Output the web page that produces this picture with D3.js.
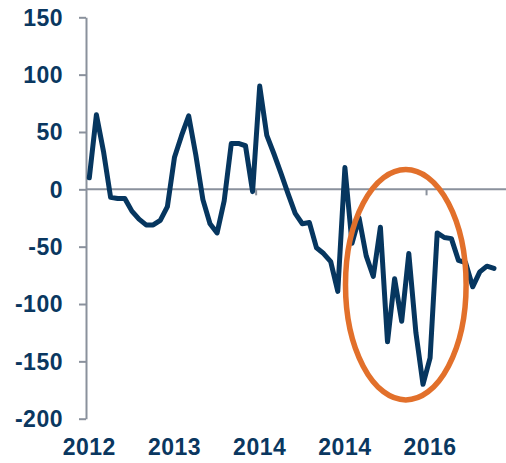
<!DOCTYPE html>
<html>
<head>
<meta charset="utf-8">
<title>Monthly series 2012-2016</title>
<style>
  body { margin: 0; background: #fff; }
  .axis path, .axis line { stroke: #8a919c; stroke-width: 2px; }
  .label { font-family: "Liberation Sans", Arial, sans-serif; font-weight: bold; font-size: 23px; fill: #0a3760; letter-spacing: 0.5px; }
</style>
</head>
<body>
<script src="https://d3js.org/d3.v7.min.js"></script>
<script>
// one value per month, starting Jan 2012
var values = [10, 65, 33, -7, -8, -8, -19, -26, -31, -31, -27, -15,
              28, 47, 64, 30, -9, -30, -38, -10, 40, 40, 38, -2,
              90, 47, 31, 14, -4, -21, -30, -29, -51, -56, -63, -89,
              19, -47, -25, -58, -76, -33, -133, -78, -115, -56, -125, -170,
              -147, -38, -42, -43, -62, -64, -85, -72, -67, -69];
var yTicks = [150, 100, 50, 0, -50, -100, -150, -200];
var xLabelIdx = [0, 12, 24, 36, 48];
var xLabels = ["2012", "2013", "2014", "2014", "2016"];
var xTickIdx = [23.5, 47.5];

var W = 506, H = 463;
var svg = d3.select("body").append("svg").attr("width", W).attr("height", H);

var x = d3.scaleLinear().domain([0, values.length - 1]).range([89.3, 494]);
var y = d3.scaleLinear().domain([-200, 150]).range([418.7, 17.3]);
var axisX = 86;

// y axis
var gy = svg.append("g").attr("class", "axis")
  .attr("transform", "translate(" + axisX + ",0)")
  .call(d3.axisLeft(y).tickValues(yTicks).tickSize(7).tickSizeOuter(0).tickFormat(""));

svg.selectAll(".ylab").data(yTicks).enter().append("text")
  .attr("class", "label")
  .attr("x", 63)
  .attr("y", function(d){ return y(d); })
  .attr("dy", "0.36em")
  .attr("text-anchor", "end")
  .text(function(d){ return d; });

// zero line with ticks hanging below
var gx = svg.append("g").attr("class", "axis")
  .attr("transform", "translate(0," + y(0) + ")");
gx.append("line").attr("x1", axisX).attr("x2", W).attr("y1", 0).attr("y2", 0);
gx.selectAll(".xt").data(xTickIdx).enter().append("line")
  .attr("x1", function(d){ return x(d); }).attr("x2", function(d){ return x(d); })
  .attr("y1", 0).attr("y2", 6);

svg.selectAll(".xlab").data(xLabelIdx).enter().append("text")
  .attr("class", "label")
  .attr("x", function(d){ return x(d); })
  .attr("y", 455)
  .attr("text-anchor", "middle")
  .text(function(d, i){ return xLabels[i]; });

// series
var line = d3.line()
  .x(function(d, i){ return x(i); })
  .y(function(d){ return y(d); });

svg.append("path")
  .datum(values)
  .attr("d", line)
  .attr("fill", "none")
  .attr("stroke", "#06365f")
  .attr("stroke-width", 5)
  .attr("stroke-linejoin", "round")
  .attr("stroke-linecap", "round");

// highlight ellipse
svg.append("ellipse")
  .attr("cx", 405.8).attr("cy", 284.7)
  .attr("rx", 60.3).attr("ry", 115.2)
  .attr("fill", "none")
  .attr("stroke", "#e2702b")
  .attr("stroke-width", 5.5);
</script>
</body>
</html>
